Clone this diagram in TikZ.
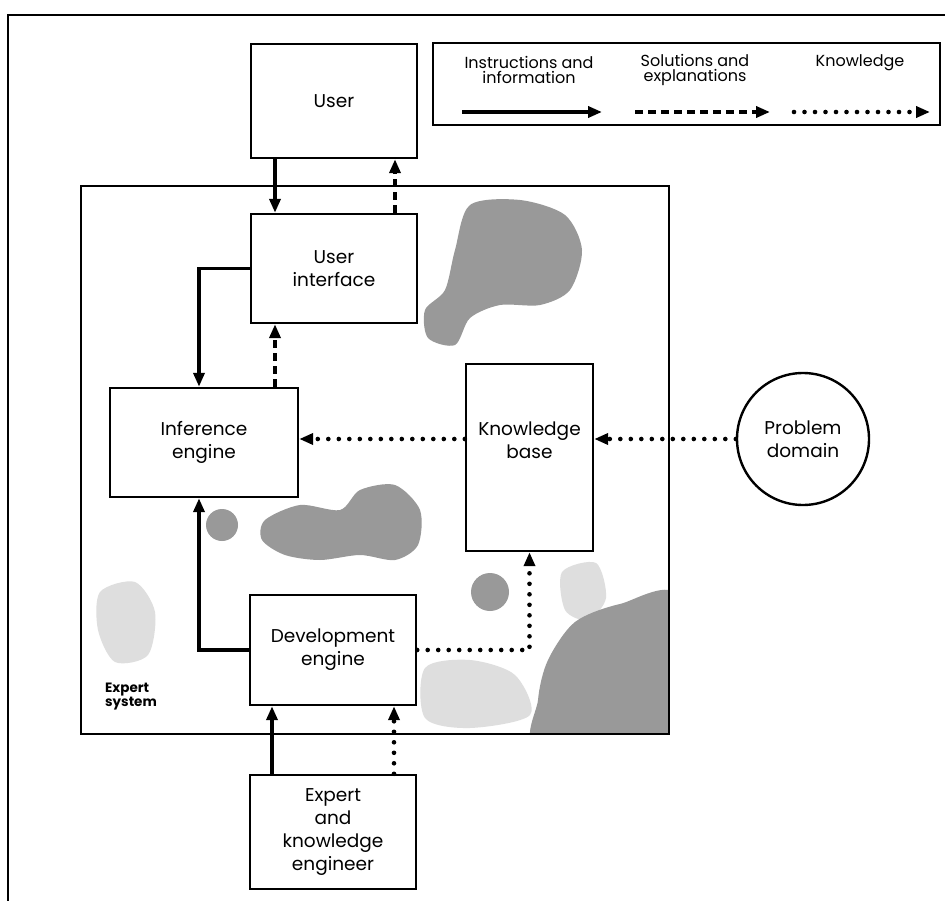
\documentclass[tikz,border=0pt]{standalone}
\usepackage{fontspec}
\setmainfont{Poppins}
\usetikzlibrary{arrows.meta}

\tikzset{
  box/.style={draw, line width=2.4pt, fill=white, align=center, inner sep=0pt,
    font=\fontsize{18.5}{23}\selectfont},
  tip/.style={-{Triangle[length=14pt,width=11pt]}},
  infoarrow/.style={tip, line width=3.8pt},
  solnarrow/.style={tip, line width=3.8pt, dash pattern=on 8pt off 5pt},
  knowarrow/.style={tip, line width=4.6pt, line cap=round, dash pattern=on 0pt off 10.5pt},
  legendtext/.style={align=center, inner sep=0pt, font=\fontsize{16}{15.5}\selectfont},
  blob/.style={fill=black!40},
  haze/.style={fill=black!13},
}

\begin{document}
\begin{tikzpicture}[x=1pt,y=-1pt]
  \useasboundingbox (0,0) rectangle (945,901);

  % page rule along top and left
  \draw[line width=1.6pt] (8,901) -- (8,15) -- (945,15);

  % expert system enclosure with its stippled shading
  \fill[white] (81,186) rectangle (669,734);
  \begin{scope}
    \clip (81,186) rectangle (669,734);
    \fill[haze] plot[smooth cycle] coordinates {(100,592) (135,582) (155,612) (148,655) (115,662) (98,630)};
    \fill[haze] plot[smooth cycle] coordinates {(562,572) (596,563) (606,598) (588,620) (565,610)};
    \fill[haze] plot[smooth cycle] coordinates {(425,668) (470,660) (515,675) (530,715) (470,728) (425,718)};
    \fill[blob] plot[smooth cycle] coordinates {(470,205) (520,200) (565,215) (582,250) (570,290) (540,305) (500,305) (470,318) (455,345) (428,338) (425,310) (445,290) (455,250)};
    \fill[blob] plot[smooth cycle] coordinates {(265,520) (300,505) (340,510) (360,490) (395,485) (420,510) (418,545) (395,560) (360,555) (320,560) (285,555) (262,540)};
    \fill[blob] (222,525) circle (16);
    \fill[blob] (490,592) circle (19);
    \fill[blob] plot[smooth cycle] coordinates {(548,660) (575,622) (620,604) (680,598) (690,750) (540,750) (538,700)};
  \end{scope}
  \draw[line width=2.4pt] (81,186) rectangle (669,734);

  % components
  \node[box, minimum width=166, minimum height=114] (user) at (334,101) {User};
  \node[box, minimum width=166, minimum height=109] (ui) at (334,268.5) {User\\interface};
  \node[box, minimum width=188, minimum height=109] (inf) at (204,442.5) {Inference\\engine};
  \node[box, minimum width=127, minimum height=187] (kb) at (529.5,457.5) {};
  \node[align=center, inner sep=0pt, font=\fontsize{18.5}{23}\selectfont] (kbtext) at (529.5,440) {Knowledge\\base};
  \node[box, circle, minimum size=132] (pd) at (803,439) {Problem\\domain};
  \node[box, minimum width=166, minimum height=110] (dev) at (333,650) {Development\\engine};
  \node[box, minimum width=166, minimum height=114] (exp) at (333,832) {Expert\\and\\knowledge\\engineer};
  \node[align=left, inner sep=0pt, font=\bfseries\fontsize{13.5}{14}\selectfont] (sys) at (131,697) {Expert\\system};

  % connector columns and rows
  \coordinate (colA) at (275,0);
  \coordinate (colB) at (395,0);
  \coordinate (colL) at (199,0);
  \coordinate (colC) at (272,0);
  \coordinate (colD) at (394,0);
  \coordinate (rowK) at (0,439);

  % connectors
  \draw[infoarrow] (user.south -| colA) -- (ui.north -| colA);
  \draw[solnarrow] (ui.north -| colB) -- (user.south -| colB);
  \draw[infoarrow] (ui.west) -| (colL |- inf.north);
  \draw[solnarrow] (inf.north -| colA) -- (ui.south -| colA);
  \draw[knowarrow] (kb.west |- rowK) -- (inf.east |- rowK);
  \draw[knowarrow] (pd.west) -- (kb.east |- pd.west);
  \draw[infoarrow] (dev.west) -| (colL |- inf.south);
  \draw[knowarrow] (dev.east) -| (kb.south);
  \draw[infoarrow] (exp.north -| colC) -- (dev.south -| colC);
  \draw[knowarrow] (exp.north -| colD) -- (dev.south -| colD);

  % legend
  \draw[line width=1.6pt] (433,43) rectangle (940,125);
  \node[legendtext] (l1) at (529,70) {Instructions and\\information};
  \node[legendtext] (l2) at (695,70) {Solutions and\\explanations};
  \node[legendtext] (l3) at (860,63) {Knowledge};
  \coordinate (l1a) at (462,112);
  \coordinate (l1b) at (602,112);
  \coordinate (l2a) at (635,112);
  \coordinate (l2b) at (770,112);
  \coordinate (l3a) at (794,112);
  \coordinate (l3b) at (930,112);
  \draw[infoarrow] (l1a) -- (l1b);
  \draw[solnarrow] (l2a) -- (l2b);
  \draw[knowarrow] (l3a) -- (l3b);
\end{tikzpicture}
\end{document}
